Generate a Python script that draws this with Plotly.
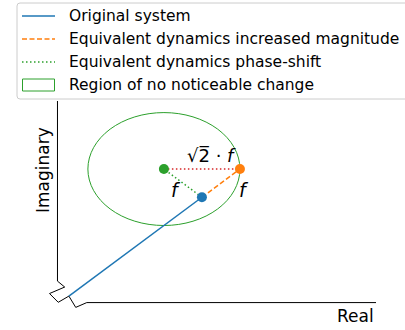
import plotly.graph_objects as go

# Complex-plane sketch: an original pole location and the two equivalent
# dynamics that sit on the edge of the "no noticeable change" region.
ORIGINAL_RE = [0.0, 3.5]
ORIGINAL_IM = [0.0, 3.5]
MAGNITUDE_RE = [3.5, 4.5]
MAGNITUDE_IM = [3.5, 4.5]
PHASE_RE = [3.5, 2.5]
PHASE_IM = [3.5, 4.5]
CHORD_RE = [2.5, 4.5]
CHORD_IM = [4.5, 4.5]
REGION_CENTER = (2.5, 4.5)
REGION_RADIUS = 2.0

# Broken axes drawn as one polyline (zig-zag break near the origin)
AXIS_RE = [-0.30, -0.30, -0.11, -0.51, -0.28, 0.0, 0.18, 0.47, 8.08]
AXIS_IM = [6.91, 0.53, 0.32, 0.09, -0.22, 0.0, -0.40, -0.23, -0.23]

X_RANGE = [-0.76, 8.08]
Y_RANGE = [-0.67, 6.91]

LEGEND_LABELS = [
    "Original system",
    "Equivalent dynamics increased magnitude",
    "Equivalent dynamics phase-shift",
    "Region of no noticeable change",
]

BLUE, ORANGE, GREEN, RED = "#1f77b4", "#ff7f0e", "#2ca02c", "#d62728"
FONT = "DejaVu Sans"

W, H = 405, 330
ML, MR, MT, MB = 40, 29, 101, 15
PW, PH = W - ML - MR, H - MT - MB


def px(x):
    return (x - ML) / PW


def py(y):
    return 1 - (y - MT) / PH


fig = go.Figure()

fig.add_trace(go.Scatter(x=AXIS_RE, y=AXIS_IM, mode="lines",
                         line=dict(color="black", width=1), hoverinfo="skip"))

fig.add_trace(go.Scatter(x=ORIGINAL_RE, y=ORIGINAL_IM, mode="lines",
                         line=dict(color=BLUE, width=1.5)))
fig.add_trace(go.Scatter(x=MAGNITUDE_RE, y=MAGNITUDE_IM, mode="lines",
                         line=dict(color=ORANGE, width=1.5, dash="5px,2.5px")))
fig.add_trace(go.Scatter(x=PHASE_RE, y=PHASE_IM, mode="lines",
                         line=dict(color=GREEN, width=1.5, dash="1.5px,2.5px")))
fig.add_trace(go.Scatter(x=CHORD_RE, y=CHORD_IM, mode="lines",
                         line=dict(color=RED, width=1.5, dash="1.5px,2.5px")))

# Pole markers
fig.add_trace(go.Scatter(x=[ORIGINAL_RE[-1]], y=[ORIGINAL_IM[-1]], mode="markers",
                         marker=dict(color=BLUE, size=10)))
fig.add_trace(go.Scatter(x=[MAGNITUDE_RE[-1]], y=[MAGNITUDE_IM[-1]], mode="markers",
                         marker=dict(color=ORANGE, size=10)))
fig.add_trace(go.Scatter(x=[PHASE_RE[-1]], y=[PHASE_IM[-1]], mode="markers",
                         marker=dict(color=GREEN, size=10)))

# Region of no noticeable change
cx, cy = REGION_CENTER
fig.add_shape(type="circle", xref="x", yref="y",
              x0=cx - REGION_RADIUS, x1=cx + REGION_RADIUS,
              y0=cy - REGION_RADIUS, y1=cy + REGION_RADIUS,
              line=dict(color=GREEN, width=1), layer="below")

# Distance labels
fig.add_annotation(x=2.82, y=3.76, text="<i>f</i>", showarrow=False,
                   font=dict(family=FONT, size=19, color="black"))
fig.add_annotation(x=4.61, y=3.76, text="<i>f</i>", showarrow=False,
                   font=dict(family=FONT, size=19, color="black"))
fig.add_annotation(x=3.74, y=4.98, text="√2\u0305 · <i>f</i>", showarrow=False,
                   font=dict(family=FONT, size=18, color="black"))

# Axis names
fig.add_annotation(xref="paper", yref="paper", x=px(43), y=py(170),
                   xanchor="center", yanchor="middle",
                   text="Imaginary", textangle=-90, showarrow=False,
                   font=dict(family=FONT, size=17, color="black"))
fig.add_annotation(xref="paper", yref="paper", x=px(355), y=py(316),
                   xanchor="center", yanchor="middle",
                   text="Real", showarrow=False,
                   font=dict(family=FONT, size=17, color="black"))

# Legend box
L, T, R, B, r = 17, 3, 420, 99, 3
path = (f"M {px(L + r)},{py(T)} L {px(R)},{py(T)} L {px(R)},{py(B)} "
        f"L {px(L + r)},{py(B)} Q {px(L)},{py(B)} {px(L)},{py(B - r)} "
        f"L {px(L)},{py(T + r)} Q {px(L)},{py(T)} {px(L + r)},{py(T)} Z")
fig.add_shape(type="path", xref="paper", yref="paper", path=path,
              line=dict(color="#cccccc", width=1), fillcolor="white", layer="above")

rows = [16, 39, 62, 85]
styles = [(BLUE, "solid"), (ORANGE, "5px,2.5px"), (GREEN, "1.5px,2.5px")]
for yrow, (col, dash) in zip(rows[:3], styles):
    fig.add_shape(type="line", xref="paper", yref="paper",
                  x0=px(22), x1=px(55), y0=py(yrow), y1=py(yrow),
                  line=dict(color=col, width=1.5, dash=dash), layer="above")
fig.add_shape(type="rect", xref="paper", yref="paper",
              x0=px(22.5), x1=px(54.5), y0=py(rows[3] - 6), y1=py(rows[3] + 6),
              line=dict(color=GREEN, width=1), fillcolor="white", layer="above")
for yrow, text in zip(rows, LEGEND_LABELS):
    fig.add_annotation(xref="paper", yref="paper", x=px(67), y=py(yrow),
                       xanchor="left", yanchor="middle", text=text, showarrow=False,
                       font=dict(family=FONT, size=15.5, color="black"))

fig.update_layout(
    width=W, height=H,
    margin=dict(l=ML, r=MR, t=MT, b=MB),
    paper_bgcolor="white", plot_bgcolor="white",
    showlegend=False,
    xaxis=dict(range=X_RANGE, visible=False),
    yaxis=dict(range=Y_RANGE, visible=False),
)

fig.write_html("out.html")
